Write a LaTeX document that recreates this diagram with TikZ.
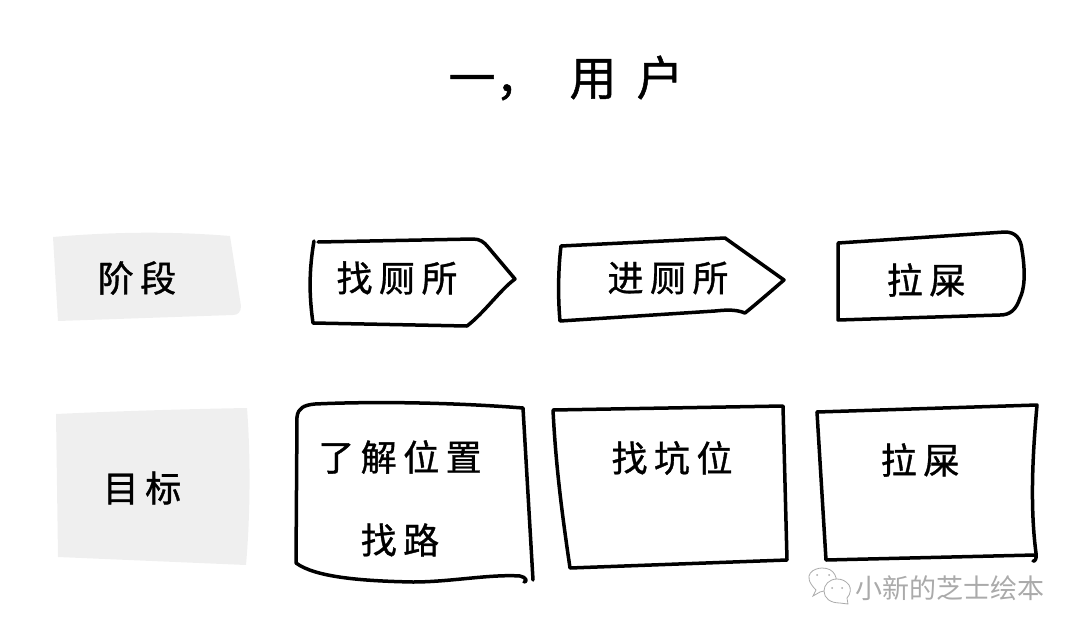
\documentclass[tikz,border=0pt]{standalone}
\usepackage{fontspec}
\usepackage{xcolor}
\newfontfamily\cjk[LetterSpace=18,FakeBold=1]{Noto Sans CJK SC}
\newfontfamily\cjktitle[FakeBold=1]{Noto Sans CJK SC}
\newfontfamily\cjkmark{Noto Sans CJK SC}
\definecolor{labelgray}{RGB}{239,239,239}
\definecolor{markgray}{RGB}{170,170,170}
\tikzset{
  sketch/.style={line width=3.5pt,line cap=round,line join=round,draw=black},
  labelbox/.style={fill=labelgray},
  boxtext/.style={font=\fontsize{36}{36}\cjk},
  titletext/.style={font=\fontsize{47}{47}\cjktitle},
  marktext/.style={font=\fontsize{27}{27}\cjkmark,text=markgray},
  bubble/.style={line width=0.8pt,draw=markgray,fill=white}
}
\begin{document}
\begin{tikzpicture}[x=1pt,y=-1pt]
  \useasboundingbox (0,0) rectangle (1080,635);

  % Title
  \node[titletext] (title) at (566,78) {一，\hspace{27pt}用\hspace{20pt}户};

  % Gray label patches
  \fill[labelbox] (53,237) .. controls (110,232) and (170,231) .. (230,236)
    -- (241,306) .. controls (241,312) and (238,315) .. (233,315) -- (58,321) -- cycle;
  \fill[labelbox] (56,414) .. controls (120,411) and (190,409) .. (247,408)
    .. controls (251,460) and (250,520) .. (246,565) -- (58,557) -- cycle;

  % Stage row
  \draw[sketch] (318,242) -- (473,239) .. controls (480,239) and (484,242) .. (488,247)
    -- (515,279) .. controls (500,290) and (485,312) .. (467,326) -- (313,323)
    .. controls (309,295) and (309,270) .. (314,241);
  \draw[sketch] (561,246) -- (725,238) -- (784,280)
    .. controls (770,292) and (755,305) .. (745,313)
    .. controls (735,309) and (725,310) .. (715,311) -- (560,321)
    .. controls (558,300) and (558,270) .. (561,246);
  \draw[sketch] (838,243) -- (1005,232) .. controls (1015,232) and (1021,238) .. (1022,250)
    .. controls (1026,275) and (1024,290) .. (1020,298)
    .. controls (1016,310) and (1010,315) .. (1000,315) -- (838,320) -- (838,243);

  % Goal row
  \draw[sketch] (297,417) .. controls (298,408) and (304,405) .. (315,404)
    .. controls (380,401) and (460,403) .. (523,408) -- (533,580);
  \draw[sketch] (297,417) -- (296,563) .. controls (315,577) and (360,581) .. (413,582)
    .. controls (450,582) and (490,574) .. (520,576) .. controls (526,577) and (528,582) .. (524,582);
  \draw[sketch] (553,410) -- (783,406) -- (787,560) -- (570,568)
    .. controls (563,520) and (556,470) .. (553,410);
  \draw[sketch] (817,412) -- (1037,405) .. controls (1034,440) and (1029,500) .. (1036,553)
    .. controls (1037,558) and (1035,562) .. (1033,561);
  \draw[sketch] (1035,555) -- (826,560) -- (817,412);

  % Labels
  \node[boxtext] (stagelabel) at (137,278) {阶段};
  \node[boxtext] (goallabel) at (142,488) {目标};
  \node[boxtext] (findtoilet) at (397,278) {找厕所};
  \node[boxtext] (entertoilet) at (668,278) {进厕所};
  \node[boxtext] (poopstage) at (926,280) {拉屎};
  \node[boxtext] (location) at (400,457) {了解位置};
  \node[boxtext] (findway) at (400,540) {找路};
  \node[boxtext] (findstall) at (672,458) {找坑位};
  \node[boxtext] (poopgoal) at (920,460) {拉屎};

  % Watermark
  \draw[bubble] (813,596) -- (816,590) .. controls (800,574) and (815,568) .. (822,568)
    .. controls (835,568) and (838,578) .. (836,588) -- (820,592) -- cycle;
  \draw[bubble] (837,579) .. controls (829,579) and (824,585) .. (824,591)
    .. controls (824,598) and (830,603) .. (840,603) -- (848,604) -- (847,598)
    .. controls (851,594) and (851,588) .. (849,585) .. controls (846,581) and (842,579) .. (837,579);
  \fill[markgray] (817,575) circle (1) (829,575) circle (1) (832,588) circle (1) (842,588) circle (1);
  \node[marktext] (wechatmark) at (950,588) {小新的芝士绘本};
\end{tikzpicture}
\end{document}
